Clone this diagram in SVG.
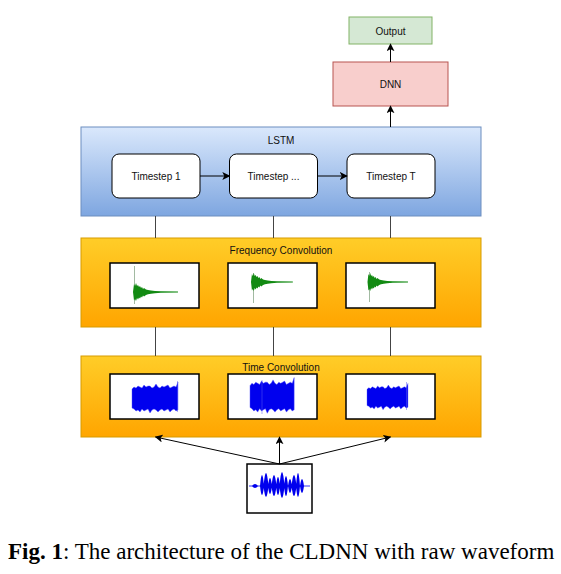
<svg xmlns="http://www.w3.org/2000/svg" width="561" height="574" viewBox="0 0 561 574">
<defs>
<linearGradient id="gBlue" x1="0" y1="0" x2="0" y2="1"><stop offset="0" stop-color="#dae8fc"/><stop offset="1" stop-color="#7ea6e0"/></linearGradient>
<linearGradient id="gOrange" x1="0" y1="0" x2="0" y2="1"><stop offset="0" stop-color="#ffcd28"/><stop offset="1" stop-color="#ffa500"/></linearGradient>
<marker id="arr" viewBox="0 0 10 10" refX="9" refY="5" markerWidth="8" markerHeight="8" markerUnits="userSpaceOnUse" orient="auto"><path d="M0,0 L10,5 L0,10 L2.5,5 Z" fill="#000"/></marker>
<path id="noise" d="M0,-9 L2,-11 L4,-10 L6,-12 L8,-11 L10,-10 L12,-13 L14,-11 L16,-12 L18,-12 L20,-10 L22,-11 L24,-14 L26,-11 L28,-10 L30,-12 L32,-11 L34,-12 L36,-13 L38,-10 L40,-11 L42,-12 L44,-11 L46,-16 L46,12 L44,13 L42,11 L40,12 L38,14 L36,11 L34,12 L32,13 L30,11 L28,12 L26,14 L24,12 L22,11 L20,12 L18,15 L16,11 L14,12 L12,13 L10,11 L8,14 L6,12 L4,13 L2,11 L0,10 Z"/>
<path id="decay" d="M0,0 L1,-8 L2,-6 L3,-9 L4,-6 L5,-7 L6,-5 L7,-6 L8,-4 L9,-5 L10,-3 L11,-4 L13,-2.5 L15,-2 L18,-1.5 L22,-1 L28,-0.7 L45,-0.4 L45,0.4 L28,0.8 L22,1.2 L18,1.8 L15,2.2 L13,3 L11,4.5 L10,3.5 L9,5.5 L8,4.5 L7,6.5 L6,5.5 L5,7.5 L4,6 L3,9 L2,7 L1,8.5 Z"/>
</defs>
<style>
.lbl{font-family:"Liberation Sans",Arial,sans-serif;font-size:10px;fill:#111;text-anchor:middle;dominant-baseline:central}
.img{fill:#fff;stroke:#000;stroke-width:1.5}
.ts{fill:#fff;stroke:#000;stroke-width:1}
.conn{stroke:#000;stroke-width:1;fill:none}
.line{stroke:#444;stroke-width:1;fill:none}
.blue{fill:#0000ee;stroke:#5555ff;stroke-width:0.7;stroke-opacity:0.6}
.green{fill:#128a12}
.spike{stroke:#8aa88a;stroke-width:0.8}
.bspike{stroke:#5a5af0;stroke-width:0.5}
</style>

<g id="output"><rect x="349" y="17" width="83" height="27" fill="#d5e8d4" stroke="#82b366"/><text class="lbl" x="390.5" y="31">Output</text></g>
<g id="dnn"><rect x="333" y="62" width="115" height="44" fill="#f8cecc" stroke="#b85450"/><text class="lbl" x="390.5" y="84">DNN</text></g>

<g id="lstm"><rect x="81" y="127" width="400" height="89" fill="url(#gBlue)" stroke="#6c8ebf"/><text class="lbl" x="281" y="140">LSTM</text></g>
<g id="ts1"><rect class="ts" x="112" y="154" width="88" height="44" rx="7"/><text class="lbl" x="156" y="176">Timestep 1</text></g>
<g id="ts2"><rect class="ts" x="229.5" y="154" width="88" height="44" rx="7"/><text class="lbl" x="273.5" y="176">Timestep ...</text></g>
<g id="ts3"><rect class="ts" x="347" y="154" width="88" height="44" rx="7"/><text class="lbl" x="391" y="176">Timestep T</text></g>

<g id="freq"><rect x="81" y="238" width="400" height="89" fill="url(#gOrange)" stroke="#d79b00"/><text class="lbl" x="281" y="250">Frequency Convolution</text>
<rect class="img" x="110" y="263" width="89" height="45"/>
<rect class="img" x="228" y="263" width="89" height="45"/>
<rect class="img" x="346" y="263" width="89" height="45"/>
<line class="spike" x1="134.5" y1="266" x2="134.5" y2="304"/>
<use href="#decay" class="green" transform="translate(133,292)"/>
<line class="spike" x1="253.5" y1="273" x2="253.5" y2="303"/>
<use href="#decay" class="green" transform="translate(251,282) scale(0.93,1)"/>
<line class="spike" x1="369.5" y1="272" x2="369.5" y2="302"/>
<use href="#decay" class="green" transform="translate(367.5,282) scale(0.9,1)"/>
</g>

<g id="time"><rect x="81" y="356" width="400" height="81" fill="url(#gOrange)" stroke="#d79b00"/><text class="lbl" x="281" y="367">Time Convolution</text>
<rect class="img" x="110" y="374" width="89" height="45"/>
<rect class="img" x="228" y="374" width="89" height="45"/>
<rect class="img" x="346" y="374" width="89" height="45"/>
<use href="#noise" class="blue" transform="translate(132,398)"/>
<line class="bspike" x1="177.5" y1="381" x2="177.5" y2="412"/>
<use href="#noise" class="blue" transform="translate(250,396) scale(0.96,1.15)"/>
<line class="bspike" x1="262" y1="380" x2="262" y2="414"/>
<use href="#noise" class="blue" transform="translate(367,397) scale(0.89,0.85)"/>
<line class="bspike" x1="406.5" y1="382" x2="406.5" y2="410"/>
</g>

<g id="input"><rect class="img" x="247" y="464" width="65" height="49" stroke-width="1"/>
<line x1="249" y1="486" x2="310" y2="486" stroke="#0000ee" stroke-width="0.8"/>
<path fill="#0000ee" d="M252,486 Q255,482 258,486 Q255,490 252,486 Z
M260,486 Q262,464 264,486 Q262,504 260,486 Z
M263.5,486 Q266,460 268.5,486 Q266,508 263.5,486 Z
M268,486 Q270,470 272,486 Q270,502 268,486 Z
M271.5,486 Q274,464 276.5,486 Q274,506 271.5,486 Z
M276,486 Q278,468 280,486 Q278,504 276,486 Z
M279.5,486 Q282,458 284.5,486 Q282,510 279.5,486 Z
M284,486 Q286,466 288,486 Q286,506 284,486 Z
M288,486 Q290,472 292,486 Q290,500 288,486 Z
M291.5,486 Q294,464 296.5,486 Q294,506 291.5,486 Z
M296,486 Q298,460 300,486 Q298,508 296,486 Z
M300,486 Q302,472 304,486 Q302,500 300,486 Z"/>
</g>

<g id="connectors">
<line class="conn" x1="390.5" y1="62" x2="390.5" y2="44" marker-end="url(#arr)"/>
<line class="conn" x1="390.5" y1="127" x2="390.5" y2="106" marker-end="url(#arr)"/>
<line class="conn" x1="200" y1="176" x2="229.5" y2="176" marker-end="url(#arr)"/>
<line class="conn" x1="317.5" y1="176" x2="347" y2="176" marker-end="url(#arr)"/>
<line class="line" x1="155.5" y1="216" x2="155.5" y2="238"/>
<line class="line" x1="273.5" y1="216" x2="273.5" y2="238"/>
<line class="line" x1="390.5" y1="216" x2="390.5" y2="238"/>
<line class="line" x1="155.5" y1="327" x2="155.5" y2="356"/>
<line class="line" x1="273.5" y1="327" x2="273.5" y2="356"/>
<line class="line" x1="390.5" y1="327" x2="390.5" y2="356"/>
<line class="conn" x1="279.5" y1="464" x2="155.5" y2="437" marker-end="url(#arr)"/>
<line class="conn" x1="279.5" y1="464" x2="279.5" y2="437" marker-end="url(#arr)"/>
<line class="conn" x1="279.5" y1="464" x2="390.5" y2="437" marker-end="url(#arr)"/>
</g>

<text x="8" y="559" font-family="'Liberation Serif','Times New Roman',serif" font-size="23" fill="#000"><tspan font-weight="bold">Fig. 1</tspan>: The architecture of the CLDNN with raw waveform</text>
</svg>
